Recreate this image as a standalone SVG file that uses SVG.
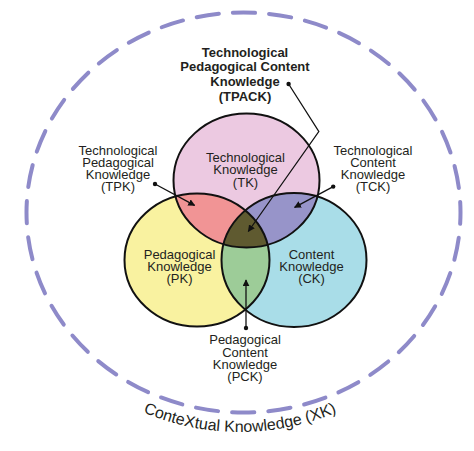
<svg xmlns="http://www.w3.org/2000/svg" width="474" height="451" viewBox="0 0 474 451">
<style>
.lbl{font-family:"Liberation Sans",Arial,sans-serif;font-size:13px;fill:#231f20;text-anchor:middle}
.b{font-weight:bold}
.ring{fill:none;stroke:#111;stroke-width:2}
.con{stroke:#111;stroke-width:1.3;fill:none}
.dot{fill:#111}
</style>
<defs>
<ellipse id="eT" cx="246.5" cy="180.5" rx="73" ry="67"/>
<ellipse id="eP" cx="197" cy="260" rx="72.5" ry="66.5"/>
<ellipse id="eC" cx="294" cy="260" rx="72.5" ry="67"/>
<clipPath id="cT"><use href="#eT"/></clipPath>
<clipPath id="cP"><use href="#eP"/></clipPath>
<clipPath id="cC"><use href="#eC"/></clipPath>
<marker id="arr" viewBox="0 0 10 10" refX="9" refY="5" markerWidth="7" markerHeight="7" markerUnits="userSpaceOnUse" orient="auto"><path d="M0,0 L10,5 L0,10 z" fill="#111"/></marker>
<path id="arcXK" d="M 110 395 A 247 247 0 0 0 370 395"/>
</defs>
<g id="context">
<ellipse cx="243.5" cy="212.5" rx="217" ry="200" fill="none" stroke="#8e8ac9" stroke-width="4" stroke-linecap="round" stroke-dasharray="22.4 14" stroke-dashoffset="11"/>
<text font-family="'Liberation Sans',Arial,sans-serif" font-size="16" fill="#231f20"><textPath href="#arcXK" startOffset="50%" text-anchor="middle">ConteXtual Knowledge (XK)</textPath></text>
</g>
<g id="fills">
<use href="#eT" fill="#ecc9e1"/>
<use href="#eP" fill="#f9f2a0"/>
<use href="#eC" fill="#a9dde8"/>
<g clip-path="url(#cP)"><use href="#eT" fill="#f19495"/></g>
<g clip-path="url(#cC)"><use href="#eT" fill="#9794c9"/></g>
<g clip-path="url(#cC)"><use href="#eP" fill="#9dcc98"/></g>
<g clip-path="url(#cC)"><g clip-path="url(#cP)"><use href="#eT" fill="#5f5a30"/></g></g>
</g>
<g id="TK"><use href="#eT" class="ring"/>
<text class="lbl" x="245.5" y="162.3">Technological</text><text class="lbl" x="245.5" y="174.4">Knowledge</text><text class="lbl" x="245.5" y="186.5">(TK)</text></g>
<g id="PK"><use href="#eP" class="ring"/>
<text class="lbl" x="179.5" y="258.6">Pedagogical</text><text class="lbl" x="179.5" y="270.9">Knowledge</text><text class="lbl" x="179.5" y="283.1">(PK)</text></g>
<g id="CK"><use href="#eC" class="ring"/>
<text class="lbl" x="311.5" y="258.6">Content</text><text class="lbl" x="311.5" y="270.9">Knowledge</text><text class="lbl" x="311.5" y="283.1">(CK)</text></g>
<g id="TPACK">
<text class="lbl b" x="245" y="56.5">Technological</text><text class="lbl b" x="245" y="71.2">Pedagogical Content</text><text class="lbl b" x="245" y="85.9">Knowledge</text><text class="lbl b" x="245" y="100.6">(TPACK)</text></g>
<g id="TPK">
<text class="lbl" x="118" y="154.5">Technological</text><text class="lbl" x="118" y="166.6">Pedagogical</text><text class="lbl" x="118" y="178.7">Knowledge</text><text class="lbl" x="118" y="190.8">(TPK)</text></g>
<g id="TCK">
<text class="lbl" x="373" y="154.5">Technological</text><text class="lbl" x="373" y="166.6">Content</text><text class="lbl" x="373" y="178.7">Knowledge</text><text class="lbl" x="373" y="190.8">(TCK)</text></g>
<g id="PCK">
<text class="lbl" x="245" y="344.2">Pedagogical</text><text class="lbl" x="245" y="356.5">Content</text><text class="lbl" x="245" y="368.8">Knowledge</text><text class="lbl" x="245" y="381.1">(PCK)</text></g>
<g id="connectors">
<circle class="dot" cx="288.6" cy="84" r="2.2"/>
<polyline class="con" points="288.6,84 318.8,131.5 248.3,231.5" marker-end="url(#arr)"/>
<circle class="dot" cx="155" cy="184" r="2.2"/>
<line class="con" x1="155" y1="184" x2="194.6" y2="205.4" marker-end="url(#arr)"/>
<circle class="dot" cx="333.2" cy="186.6" r="2.2"/>
<line class="con" x1="333.2" y1="186.6" x2="294.6" y2="207.4" marker-end="url(#arr)"/>
<circle class="dot" cx="246" cy="328" r="2.2"/>
<line class="con" x1="246" y1="328" x2="246" y2="280" marker-end="url(#arr)"/>
</g>
</svg>
